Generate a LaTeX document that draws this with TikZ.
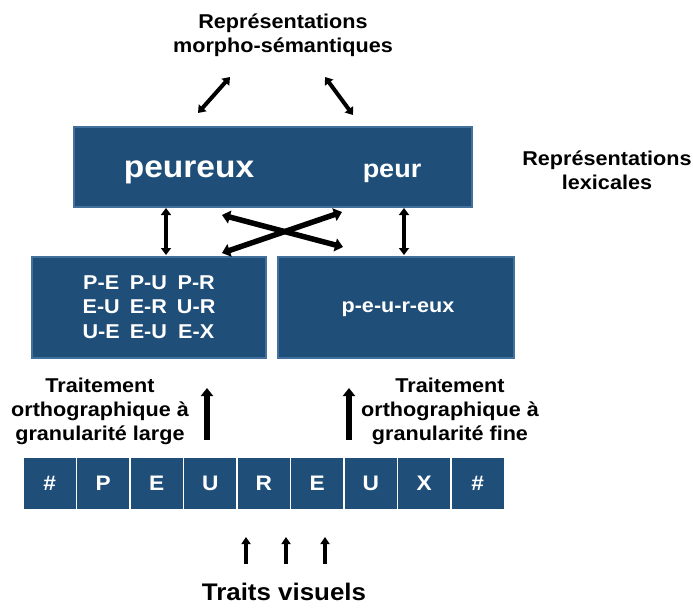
\documentclass[tikz,border=0pt]{standalone}
\usepackage{fontspec}
\setmainfont{Liberation Sans}[FakeStretch=1.08]
\usetikzlibrary{arrows.meta}
\definecolor{boxblue}{HTML}{1F4E79}
\definecolor{boxedge}{HTML}{41719C}
\begin{document}
\begin{tikzpicture}[x=1pt,y=-1pt,
  bluebox/.style={fill=boxblue, draw=boxedge, line width=1.5pt, inner sep=0pt},
  letterbox/.style={fill=boxblue, draw=white, line width=1.2pt, minimum width=53.5pt, minimum height=53pt, inner sep=0pt, text=white, font=\fontsize{21}{24}\selectfont\bfseries},
  lbl/.style={align=center, inner sep=0pt, font=\fontsize{20}{24}\selectfont\bfseries},
  wtxt/.style={text=white, inner sep=0pt},
  dbl/.style={{Triangle[length=7pt,width=10pt]}-{Triangle[length=7pt,width=10pt]}, line width=3.5pt},
  cross/.style={{Triangle[length=8pt,width=13pt]}-{Triangle[length=8pt,width=13pt]}, line width=5.5pt},
  upbig/.style={-{Triangle[length=8pt,width=12pt]}, line width=6pt},
  upsmall/.style={-{Triangle[length=7pt,width=9pt]}, line width=4pt}]
\useasboundingbox (0,0) rectangle (693,608);

% titles
\node[lbl] (morph) at (283,35) {Représentations\\morpho-sémantiques};
\node[lbl] (lexlbl) at (607,170) {Représentations\\lexicales};

% lexical box
\node[bluebox, minimum width=398pt, minimum height=80pt] (lex) at (273,167) {};
\node[wtxt, font=\fontsize{31}{36}\selectfont\bfseries] (peureux) at (189,172) {peureux};
\node[wtxt, font=\fontsize{25}{30}\selectfont\bfseries] (peur) at (392,173) {peur};

% lower boxes
\node[bluebox, minimum width=234pt, minimum height=101pt] (coarse) at (149,307.5) {};
\node[bluebox, minimum width=236pt, minimum height=101pt] (fine) at (396,307.5) {};
\node[wtxt, font=\fontsize{20}{24}\selectfont\bfseries] (bigrams) at (149,309) {%
  \def\arraystretch{1.02}\begin{tabular}{@{}c@{\hspace{10pt}}c@{\hspace{10pt}}c@{}}
  P-E & P-U & P-R\\ E-U & E-R & U-R\\ U-E & E-U & E-X
  \end{tabular}};
\node[wtxt, font=\fontsize{20}{24}\selectfont\bfseries] (morphs) at (398,309) {p-e-u-r-eux};

% processing labels
\node[lbl] (large) at (100,411) {Traitement\\orthographique à\\granularité large};
\node[lbl] (finelbl) at (450,411) {Traitement\\orthographique à\\granularité fine};

% letter row
\foreach \l [count=\i from 0] in {\#,P,E,U,R,E,U,X,\#}{
  \node[letterbox] (L\i) at ({23+53.5*\i+26.75},483.5) {\l};
}

\node[lbl, font=\fontsize{24}{28}\selectfont\bfseries] (traits) at (284,592) {Traits visuels};

% arrow end points
\coordinate (ta1) at (198,113); \coordinate (tb1) at (230,77);
\coordinate (ta2) at (325,77);  \coordinate (tb2) at (353,115);
\coordinate (va1) at (166,208); \coordinate (vb1) at (166,255);
\coordinate (va2) at (404,208); \coordinate (vb2) at (404,255);
\coordinate (ca1) at (222,215); \coordinate (cb1) at (343,247);
\coordinate (ca2) at (222,253); \coordinate (cb2) at (342,212);
\coordinate (ua1) at (207,440); \coordinate (ub1) at (207,388);
\coordinate (ua2) at (349,440); \coordinate (ub2) at (349,388);
\coordinate (sa1) at (246,564); \coordinate (sb1) at (246,537);
\coordinate (sa2) at (286,564); \coordinate (sb2) at (286,537);
\coordinate (sa3) at (325,564); \coordinate (sb3) at (325,537);

\draw[dbl, line width=4pt] (ta1) -- (tb1);
\draw[dbl, line width=4pt] (ta2) -- (tb2);
\draw[dbl] (va1) -- (vb1);
\draw[dbl] (va2) -- (vb2);
\draw[cross] (ca1) -- (cb1);
\draw[cross] (ca2) -- (cb2);
\draw[upbig] (ua1) -- (ub1);
\draw[upbig] (ua2) -- (ub2);
\draw[upsmall] (sa1) -- (sb1);
\draw[upsmall] (sa2) -- (sb2);
\draw[upsmall] (sa3) -- (sb3);
\end{tikzpicture}
\end{document}
